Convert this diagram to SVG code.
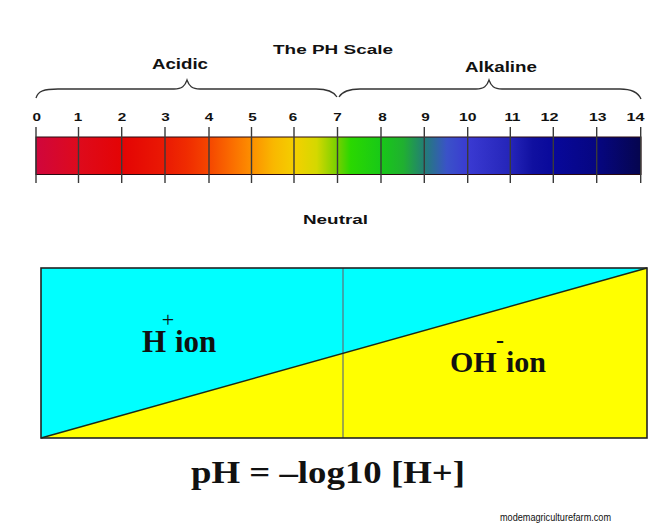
<svg xmlns="http://www.w3.org/2000/svg" width="664" height="526" viewBox="0 0 664 526">
<defs>
<linearGradient id="phgrad" x1="36" y1="0" x2="641" y2="0" gradientUnits="userSpaceOnUse">
<stop offset="0" stop-color="#d0063c"/>
<stop offset="0.071" stop-color="#de0a1c"/>
<stop offset="0.143" stop-color="#e40404"/>
<stop offset="0.214" stop-color="#ea1a04"/>
<stop offset="0.25" stop-color="#f02c00"/>
<stop offset="0.286" stop-color="#f54600"/>
<stop offset="0.321" stop-color="#fa6a00"/>
<stop offset="0.357" stop-color="#fd9000"/>
<stop offset="0.393" stop-color="#f9b800"/>
<stop offset="0.429" stop-color="#f3d000"/>
<stop offset="0.464" stop-color="#d4d800"/>
<stop offset="0.5" stop-color="#70d000"/>
<stop offset="0.52" stop-color="#2ad800"/>
<stop offset="0.571" stop-color="#18c818"/>
<stop offset="0.607" stop-color="#20b030"/>
<stop offset="0.643" stop-color="#237c78"/>
<stop offset="0.679" stop-color="#3a52c8"/>
<stop offset="0.714" stop-color="#3a3ad2"/>
<stop offset="0.786" stop-color="#2424b8"/>
<stop offset="0.821" stop-color="#1010a0"/>
<stop offset="0.857" stop-color="#08089a"/>
<stop offset="0.929" stop-color="#060680"/>
<stop offset="1" stop-color="#05054e"/>
</linearGradient>
</defs>
<style>
.lbl{font-family:"Liberation Sans",Arial,sans-serif;font-weight:bold;fill:#111;}
.num{font-family:"Liberation Sans",Arial,sans-serif;font-weight:bold;font-size:11px;fill:#111;text-anchor:middle;}
.tick{stroke:#3a3a3a;stroke-width:1.4;}
.brace{fill:none;stroke:#333;stroke-width:1.3;}
.ion{font-family:"Liberation Serif","Times New Roman",serif;font-weight:bold;fill:#111;}
</style>
<rect width="664" height="526" fill="#ffffff"/>

<g id="title">
<text class="lbl" x="273" y="54" font-size="12.5" textLength="120" lengthAdjust="spacingAndGlyphs">The PH Scale</text>
</g>

<g id="acidic">
<text class="lbl" x="152" y="69" font-size="14" textLength="56" lengthAdjust="spacingAndGlyphs">Acidic</text>
<path class="brace" d="M36,98 C38,91 44,89 58,89 L174,89 C182,89 185,86 187,80 C189,86 192,89 200,89 L316,89 C328,89 334,92 337,97"/>
</g>

<g id="alkaline">
<text class="lbl" x="465" y="72" font-size="14" textLength="72" lengthAdjust="spacingAndGlyphs">Alkaline</text>
<path class="brace" d="M339,97 C342,92 348,89 360,89 L476,89 C484,89 487,86 489,80 C491,86 494,89 502,89 L620,89 C632,89 638,92 641,99"/>
</g>

<g id="numbers">
<text class="num" x="36.7" y="121" textLength="8.5" lengthAdjust="spacingAndGlyphs">0</text>
<text class="num" x="78" y="121" textLength="8.5" lengthAdjust="spacingAndGlyphs">1</text>
<text class="num" x="122" y="121" textLength="8.5" lengthAdjust="spacingAndGlyphs">2</text>
<text class="num" x="165.5" y="121" textLength="8.5" lengthAdjust="spacingAndGlyphs">3</text>
<text class="num" x="209" y="121" textLength="8.5" lengthAdjust="spacingAndGlyphs">4</text>
<text class="num" x="252.5" y="121" textLength="8.5" lengthAdjust="spacingAndGlyphs">5</text>
<text class="num" x="293" y="121" textLength="8.5" lengthAdjust="spacingAndGlyphs">6</text>
<text class="num" x="337.5" y="121" textLength="8.5" lengthAdjust="spacingAndGlyphs">7</text>
<text class="num" x="382.5" y="121" textLength="8.5" lengthAdjust="spacingAndGlyphs">8</text>
<text class="num" x="425.5" y="121" textLength="8.5" lengthAdjust="spacingAndGlyphs">9</text>
<text class="num" x="467.8" y="121" textLength="17.5" lengthAdjust="spacingAndGlyphs">10</text>
<text class="num" x="512.5" y="121" textLength="16" lengthAdjust="spacingAndGlyphs">11</text>
<text class="num" x="549.5" y="121" textLength="18" lengthAdjust="spacingAndGlyphs">12</text>
<text class="num" x="597.8" y="121" textLength="17.5" lengthAdjust="spacingAndGlyphs">13</text>
<text class="num" x="635.5" y="121" textLength="18" lengthAdjust="spacingAndGlyphs">14</text>
</g>

<g id="scale-bar">
<rect x="36" y="137" width="605" height="37.5" fill="url(#phgrad)" stroke="#2a0a10" stroke-width="1"/>
<g id="ticks">
<line class="tick" x1="36" y1="127" x2="36" y2="183"/>
<line class="tick" x1="78.5" y1="127" x2="78.5" y2="183"/>
<line class="tick" x1="121.7" y1="127" x2="121.7" y2="183"/>
<line class="tick" x1="165" y1="127" x2="165" y2="183"/>
<line class="tick" x1="209" y1="127" x2="209" y2="183"/>
<line class="tick" x1="251.5" y1="127" x2="251.5" y2="183"/>
<line class="tick" x1="294" y1="127" x2="294" y2="183"/>
<line class="tick" x1="337.5" y1="127" x2="337.5" y2="183"/>
<line class="tick" x1="381" y1="127" x2="381" y2="183"/>
<line class="tick" x1="424.3" y1="127" x2="424.3" y2="183"/>
<line class="tick" x1="467.7" y1="127" x2="467.7" y2="183"/>
<line class="tick" x1="510.3" y1="127" x2="510.3" y2="183"/>
<line class="tick" x1="553.3" y1="127" x2="553.3" y2="183"/>
<line class="tick" x1="596.7" y1="127" x2="596.7" y2="183"/>
<line class="tick" x1="640.7" y1="127" x2="640.7" y2="183"/>
</g>
</g>

<g id="neutral">
<text class="lbl" x="303" y="224" font-size="13" textLength="65" lengthAdjust="spacingAndGlyphs">Neutral</text>
</g>

<g id="ion-box">
<polygon points="41,268 647,268 41,438" fill="#00ffff"/>
<polygon points="41,438 647,268 647,438" fill="#ffff00"/>
<line x1="343" y1="268" x2="343" y2="438" stroke="#5f6f78" stroke-width="1.2"/>
<line x1="41" y1="438" x2="647" y2="268" stroke="#1a2a1a" stroke-width="1.5"/>
<rect x="41" y="268" width="606" height="170" fill="none" stroke="#222" stroke-width="1.6"/>
</g>

<g id="h-ion">
<text class="ion" x="142" y="352" font-size="31">H</text>
<text class="ion" x="175" y="352" font-size="31">ion</text>
<text x="168" y="327" font-family="Liberation Serif,'Times New Roman',serif" font-size="22" fill="#111" text-anchor="middle">+</text>
</g>

<g id="oh-ion">
<text class="ion" x="450" y="372" font-size="30">OH</text>
<text class="ion" x="506" y="372" font-size="30">ion</text>
<text class="ion" x="500" y="348" font-size="24" text-anchor="middle">-</text>
</g>

<g id="formula">
<text class="ion" x="191" y="483" font-size="31" textLength="274" lengthAdjust="spacingAndGlyphs">pH = –log10 [H+]</text>
</g>

<g id="watermark">
<text x="500" y="521" font-family="'Liberation Sans',Arial,sans-serif" font-size="10" fill="#111" textLength="111" lengthAdjust="spacingAndGlyphs">modemagriculturefarm.com</text>
</g>
</svg>
